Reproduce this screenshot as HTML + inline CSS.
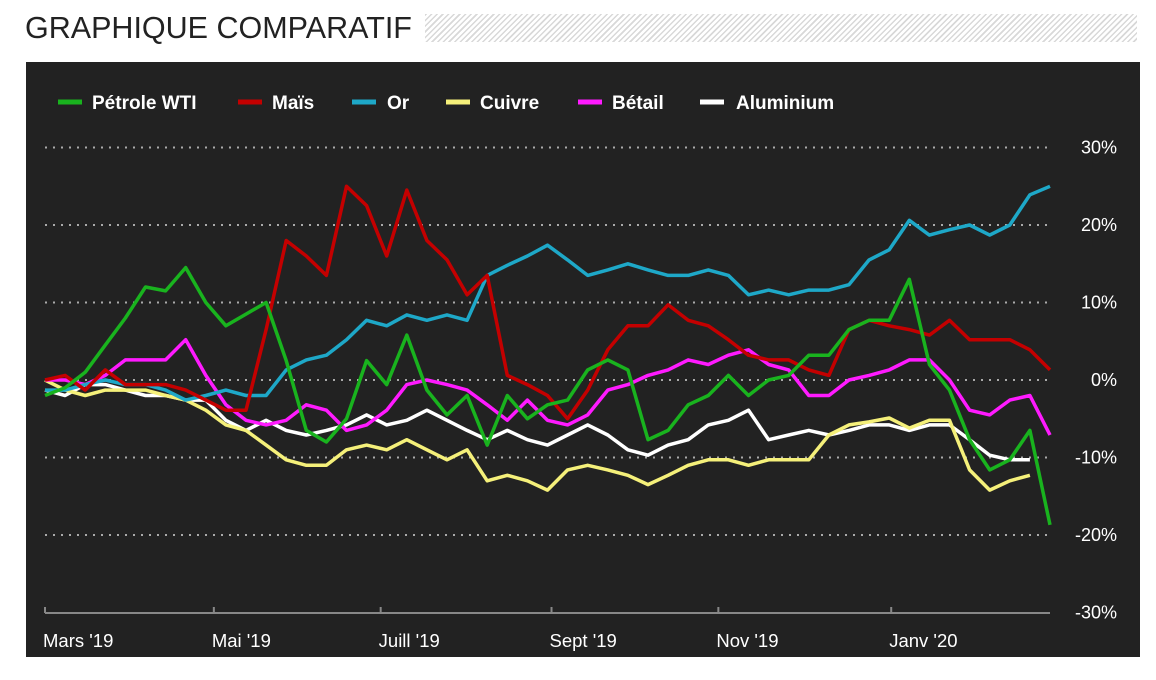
<!DOCTYPE html>
<html><head><meta charset="utf-8">
<style>
body{margin:0;background:#fff;width:1156px;height:680px;overflow:hidden;font-family:"Liberation Sans",sans-serif;}
#title{position:absolute;left:25px;top:11px;font-size:30.5px;color:#222;letter-spacing:0px;}
#hatch{position:absolute;left:425px;top:14px;width:712px;height:28px;background:repeating-linear-gradient(135deg,#d8d8d8 0 1.5px,#fff 1.5px 4px);}
#panel{position:absolute;left:26px;top:62px;width:1114px;height:595px;background:#222;}
svg{position:absolute;left:0;top:0;}
</style></head><body>
<div id="title">GRAPHIQUE COMPARATIF</div>
<div id="hatch"></div>
<div id="panel"></div>
<svg id="chart" width="1156" height="680"></svg>
<script>
const xLabels=["Mars '19","Mai '19","Juill '19","Sept '19","Nov '19","Janv '20"];
const xLabelIdx=[0,8.4,16.7,25.2,33.5,42.1];
const yTicks=[30,20,10,0,-10,-20,-30];
const seriesNames=["Aluminium","Cuivre","Bétail","Or","Maïs","Pétrole WTI"];
const wti=[-2,-1,1,4.5,8,12,11.5,14.5,10,7,8.5,10,2.5,-6.5,-8,-5,2.5,-0.6,5.8,-1.3,-4.5,-2,-8.4,-2,-5,-3.2,-2.6,1.3,2.6,1.3,-7.7,-6.5,-3.2,-2,0.6,-2,0,0.6,3.2,3.2,6.5,7.7,7.7,13,2,-1.3,-7.7,-11.6,-10.3,-6.5,-18.7];
const mais=[0,0.6,-1.3,1.3,-0.6,-0.6,-0.6,-1.3,-2.6,-3.9,-3.9,6.5,18,16,13.5,25,22.5,16,24.5,18,15.5,11,13.5,0.6,-0.6,-2,-5,-1.3,3.9,7,7,9.7,7.7,7,5.2,3.2,2.6,2.6,1.3,0.6,6.5,7.7,7,6.5,5.8,7.7,5.2,5.2,5.2,3.9,1.3];
const or=[-1.3,-1.3,-0.6,0,-0.6,-0.6,-1.3,-2.6,-2,-1.3,-2,-2,1.3,2.6,3.2,5.2,7.7,7,8.4,7.7,8.4,7.7,13.5,14.8,16,17.4,15.5,13.5,14.2,15,14.2,13.5,13.5,14.2,13.5,11,11.6,11,11.6,11.6,12.3,15.5,16.8,20.6,18.7,19.4,20,18.7,20,23.9,25];
const cuivre=[0,-1.3,-2,-1.3,-1.3,-1.3,-2,-2.6,-3.9,-5.8,-6.5,-8.4,-10.3,-11,-11,-9,-8.4,-9,-7.7,-9,-10.3,-9,-13,-12.3,-13,-14.2,-11.6,-11,-11.6,-12.3,-13.5,-12.3,-11,-10.3,-10.3,-11,-10.3,-10.3,-10.3,-7.1,-5.8,-5.4,-4.9,-6.2,-5.2,-5.2,-11.6,-14.2,-13,-12.3,null];
const betail=[0,0,-0.6,0.6,2.6,2.6,2.6,5.2,0.6,-3.2,-5.2,-5.8,-5.2,-3.2,-3.9,-6.5,-5.8,-3.9,-0.6,0,-0.6,-1.3,-3.2,-5.2,-2.6,-5.2,-5.8,-4.5,-1.3,-0.6,0.6,1.3,2.6,2,3.2,3.9,2,1.3,-2,-2,0,0.6,1.3,2.6,2.6,0,-3.9,-4.5,-2.6,-2,-7.1];
const alu=[-1.3,-2,-0.6,-0.6,-1.3,-2,-2,-2.6,-2.6,-5.2,-6.5,-5.2,-6.5,-7.1,-6.5,-5.8,-4.5,-5.8,-5.2,-3.9,-5.2,-6.5,-7.7,-6.5,-7.7,-8.4,-7.1,-5.8,-7.1,-9,-9.7,-8.4,-7.7,-5.8,-5.2,-3.9,-7.7,-7.1,-6.5,-7.1,-6.5,-5.8,-5.8,-6.5,-5.8,-5.8,-7.7,-9.7,-10.3,-10.3,null];
const seriesData=[alu,cuivre,betail,or,mais,wti];
const colors=["#ffffff","#f5f07a","#ff1aff","#1ea8c8","#c40000","#19b31e"];
const N=51,x0=45,x1=1050;
const X=i=>x0+i*(x1-x0)/(N-1);
const Y=v=>380-v*7.75;
const svg=document.getElementById('chart');
const NS="http://www.w3.org/2000/svg";
function mk(t,a){const e=document.createElementNS(NS,t);for(const k in a)e.setAttribute(k,a[k]);svg.appendChild(e);return e;}
yTicks.forEach(v=>{
  if(v>-30){const g=mk('line',{x1:45,x2:1050,y1:Y(v),y2:Y(v),stroke:'#aaa','stroke-width':2,'stroke-dasharray':'2 6'});
  
  }
  const t=mk('text',{x:1117,y:Y(v)+6,'text-anchor':'end',fill:'#fff','font-size':18,'font-family':'Liberation Sans, sans-serif'});
  t.textContent=v+'%';
  
  
});
const ax=mk('line',{x1:45,x2:1050,y1:613,y2:613,stroke:'#888','stroke-width':2});


xLabels.forEach((l,k)=>{
  const xx=X(xLabelIdx[k]);
  const tk=mk('line',{x1:xx,x2:xx,y1:607,y2:613,stroke:'#888','stroke-width':2});
  
  
  const t=mk('text',{x:xx-2,y:647,fill:'#fff','font-size':18.5,'font-family':'Liberation Sans, sans-serif'});
  t.textContent=l;
  
  
});
seriesData.forEach((d,s)=>{
  let p='';d.forEach((v,i)=>{if(v!==null)p+=(p?'L':'M')+X(i).toFixed(1)+' '+Y(v).toFixed(1);});
  const e=mk('path',{d:p,fill:'none',stroke:colors[s],'stroke-width':3.5,'stroke-linejoin':'round'});
  
  
});
const legX=[[58,92,5],[238,272,4],[352,387,3],[446,480,1],[578,612,2],[700,736,0]];
legX.forEach(([lx,tx,s])=>{
  const l=mk('line',{x1:lx,x2:lx+24,y1:102,y2:102,stroke:colors[s],'stroke-width':5});
  
  
  const t=mk('text',{x:tx,y:109,fill:'#fff','font-size':19,'font-weight':'bold','font-family':'Liberation Sans, sans-serif'});
  t.textContent=seriesNames[s];
  
  
});
</script>
</body></html>
